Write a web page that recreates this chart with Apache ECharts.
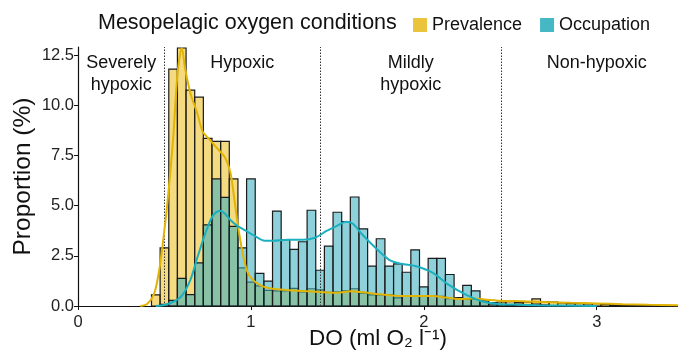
<!DOCTYPE html>
<html>
<head>
<meta charset="utf-8">
<script src="https://cdn.jsdelivr.net/npm/echarts@6/dist/echarts.min.js"></script>
<style>
html, body { margin: 0; padding: 0; background: #fff; }
#dom { width: 678px; height: 353px; }
</style>
</head>
<body>
<div id="dom"></div>
<script>
// histogram bins (ml O2 / l), width 0.05
const binWidth = 0.05
const binCenters = [0.45, 0.50, 0.55, 0.60, 0.65, 0.70, 0.75, 0.80, 0.85, 0.90,
    0.95, 1.00, 1.05, 1.10, 1.15, 1.20, 1.25, 1.30, 1.35, 1.40,
    1.45, 1.50, 1.55, 1.60, 1.65, 1.70, 1.75, 1.80, 1.85, 1.90,
    1.95, 2.00, 2.05, 2.10, 2.15, 2.20, 2.25, 2.30, 2.35, 2.40,
    2.45, 2.50, 2.55, 2.60, 2.65, 2.70, 2.75, 2.80, 2.85, 2.90,
    2.95, 3.00, 3.05, 3.10, 3.15, 3.20, 3.25, 3.30, 3.35, 3.40]
const prevalence = [0.55, 2.9, 11.8, 12.85, 10.75, 10.4, 8.35, 8.2, 8.2, 6.33,
    1.9, 1.19, 1.0, 0.78, 0.75, 0.75, 0.88, 0.7, 0.86, 0.8,
    0.68, 0.7, 0.75, 0.86, 0.64, 0.55, 0.55, 0.55, 0.4, 0.5,
    0.5, 0.5, 0.5, 0.48, 0.37, 0.37, 0.33, 0.33, 0.25, 0.17,
    0.2, 0.22, 0.18, 0.2, 0.35, 0.22, 0.2, 0.15, 0.12, 0.12,
    0.1, 0.12, 0.08, 0.06, 0.05, 0.05, 0.04, 0.04, 0.03, 0.03]
const occupation = [0, 0.08, 0.28, 1.38, 0.57, 2.15, 4.04, 6.33, 5.41, 3.97,
    2.9, 6.33, 1.62, 1.24, 4.73, 3.31, 2.82, 3.2, 4.77, 1.78,
    2.98, 4.67, 4.2, 5.43, 3.84, 1.99, 3.35, 1.99, 2.1, 1.68,
    2.8, 0.95, 2.37, 2.37, 1.57, 0.42, 1.03, 0.75, 0.25, 0.1,
    0.08, 0.05, 0.1, 0.05, 0.1, 0.05, 0, 0, 0, 0,
    0, 0, 0, 0, 0, 0, 0, 0, 0, 0]

// smoothed density lines
const prevCurveX = [0.36, 0.40, 0.44, 0.47, 0.50, 0.52, 0.55, 0.575, 0.60, 0.62, 0.65, 0.69, 0.72, 0.76, 0.80, 0.85, 0.88, 0.90, 0.92, 0.94, 0.96, 0.98, 1.00, 1.05, 1.10, 1.20, 1.30, 1.40, 1.50, 1.58, 1.65, 1.75, 1.87, 1.95, 2.05, 2.13, 2.20, 2.30, 2.38, 2.46, 2.57, 2.70, 2.85, 3.00, 3.15, 3.30, 3.47]
const prevCurveY = [0, 0.1, 0.6, 1.8, 3.8, 5.4, 8.3, 11.5, 12.85, 11.8, 10.6, 9.6, 8.7, 8.3, 7.9, 7.4, 6.7, 5.6, 4.3, 3.2, 2.3, 1.7, 1.4, 1.05, 0.9, 0.8, 0.75, 0.7, 0.66, 0.74, 0.68, 0.58, 0.5, 0.5, 0.5, 0.42, 0.35, 0.37, 0.3, 0.25, 0.24, 0.2, 0.16, 0.13, 0.09, 0.06, 0.04]
const occCurveX = [0.45, 0.50, 0.55, 0.60, 0.65, 0.69, 0.74, 0.78, 0.82, 0.85, 0.88, 0.92, 0.97, 1.02, 1.08, 1.13, 1.21, 1.30, 1.37, 1.44, 1.50, 1.55, 1.59, 1.64, 1.72, 1.80, 1.87, 1.95, 2.05, 2.14, 2.24, 2.33, 2.43, 2.53, 2.65, 2.80, 3.00]
const occCurveY = [0, 0.05, 0.2, 0.5, 1.3, 2.4, 3.7, 4.5, 4.75, 4.6, 4.3, 4.0, 3.75, 3.5, 3.25, 3.25, 3.3, 3.3, 3.4, 3.75, 4.0, 4.2, 4.1, 3.6, 2.9, 2.3, 2.1, 1.99, 1.66, 1.08, 0.58, 0.25, 0.1, 0.07, 0.04, 0.02, 0]

// oxygen thresholds and zone names
const thresholds = [0.5, 1.4, 2.45]
const zoneLabels = [
    { x: 0.25, text: 'Severely\nhypoxic' },
    { x: 0.95, text: 'Hypoxic' },
    { x: 1.925, text: 'Mildly\nhypoxic' },
    { x: 3.0, text: 'Non-hypoxic' }
]

const font = '"Liberation Sans", Arial, sans-serif'

const zip = (a, b) => a.map((v, i) => [v, b[i]])

function histRenderer (fill) {
    return function (params, api) {
        const c = api.value(0)
        const v = api.value(1)
        if (!v) return
        const p0 = api.coord([c - binWidth / 2, v])
        const p1 = api.coord([c + binWidth / 2, 0])
        return {
            type: 'rect',
            shape: { x: p0[0], y: p0[1], width: p1[0] - p0[0], height: p1[1] - p0[1] },
            style: { fill: fill, stroke: '#1b1b1b', lineWidth: 1.2 }
        }
    }
}

const option = {
    animation: false,
    textStyle: { fontFamily: font },
    title: {
        text: 'Mesopelagic oxygen conditions',
        left: 93,
        top: 7,
        textStyle: { fontFamily: font, fontSize: 21.5, fontWeight: 'normal', color: '#111' }
    },
    legend: {
        data: ['Prevalence', 'Occupation'],
        left: 408,
        top: 11,
        icon: 'rect',
        itemWidth: 14,
        itemHeight: 14,
        itemGap: 18,
        textStyle: { fontFamily: font, fontSize: 18, color: '#111' }
    },
    grid: { left: 78, right: 0, top: 47, bottom: 47, outerBoundsMode: 'none', containLabel: false },
    xAxis: {
        type: 'value',
        min: 0,
        max: 3.47,
        interval: 1,
        name: 'DO (ml O\u2082 l\u207B\u00B9)',
        nameLocation: 'middle',
        nameGap: 21,
        nameMoveOverlap: false,
        nameTextStyle: { fontFamily: font, fontSize: 22.5, color: '#111' },
        axisLine: { lineStyle: { color: '#111', width: 1.2 } },
        axisTick: { length: 4, lineStyle: { color: '#111' } },
        axisLabel: { fontSize: 16.5, color: '#222', margin: 8, showMaxLabel: false },
        splitLine: { show: false }
    },
    yAxis: {
        type: 'value',
        min: 0,
        max: 12.9,
        interval: 2.5,
        name: 'Proportion (%)',
        nameLocation: 'middle',
        nameGap: 42,
        nameMoveOverlap: false,
        nameTextStyle: { fontFamily: font, fontSize: 24.5, color: '#111' },
        axisLine: { show: true, lineStyle: { color: '#111', width: 1.2 } },
        axisTick: { show: true, length: 4, lineStyle: { color: '#111' } },
        axisLabel: { fontSize: 16.5, color: '#222', margin: 4, formatter: v => v.toFixed(1), showMaxLabel: false },
        splitLine: { show: false }
    },
    series: [
        {
            name: 'Prevalence',
            type: 'custom',
            renderItem: histRenderer('rgba(238,198,60,0.65)'),
            itemStyle: { color: '#E9C43C' },
            encode: { x: 0, y: 1 },
            data: zip(binCenters, prevalence),
            z: 2
        },
        {
            name: 'Occupation',
            type: 'custom',
            renderItem: histRenderer('rgba(60,176,192,0.58)'),
            itemStyle: { color: '#45B8C6' },
            encode: { x: 0, y: 1 },
            data: zip(binCenters, occupation),
            z: 3
        },
        {
            name: 'Prevalence density',
            type: 'line',
            smooth: 0.3,
            showSymbol: false,
            lineStyle: { color: '#E2B404', width: 2 },
            data: zip(prevCurveX, prevCurveY),
            z: 5
        },
        {
            name: 'Occupation density',
            type: 'line',
            smooth: 0.3,
            showSymbol: false,
            lineStyle: { color: '#1BB0BF', width: 2 },
            data: zip(occCurveX, occCurveY),
            z: 5,
            markLine: {
                silent: true,
                symbol: 'none',
                label: { show: false },
                lineStyle: { color: '#333', type: [1.5, 1.5], width: 1 },
                data: thresholds.map(t => ({ xAxis: t }))
            }
        }
    ]
}

const myChart = echarts.init(document.getElementById('dom'))
myChart.setOption(option, true)

// zone names across the top of the plot
const topY = myChart.convertToPixel({ yAxisIndex: 0 }, 12.9)
myChart.setOption({
    graphic: zoneLabels.map(z => ({
        type: 'text',
        x: myChart.convertToPixel({ xAxisIndex: 0 }, z.x),
        y: topY + 5,
        style: {
            text: z.text,
            fontFamily: font,
            fontSize: 18,
            lineHeight: 22,
            fill: '#111',
            align: 'center',
            verticalAlign: 'top'
        },
        z: 10
    }))
})
</script>
</body>
</html>
